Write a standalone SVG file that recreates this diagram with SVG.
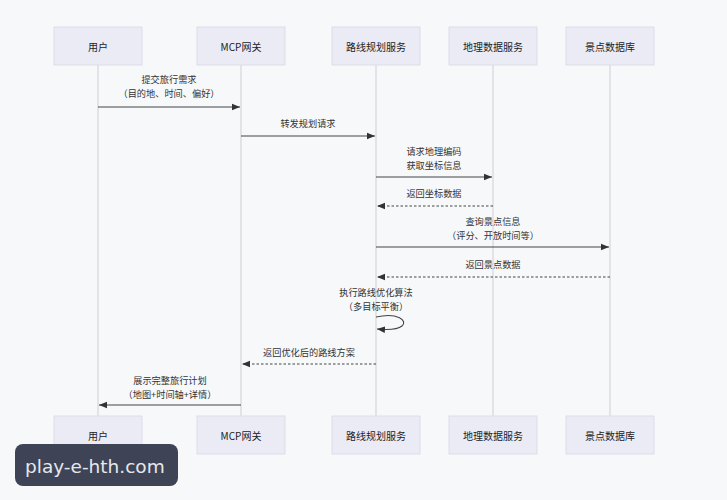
<svg xmlns="http://www.w3.org/2000/svg" width="727" height="500" viewBox="0 0 727 500">
<style>
  .bg{fill:#f7f8fa}
  .actor rect{fill:#ebebf6;stroke:#dddde9;stroke-width:1}
  .actor text{font-family:"Noto Sans CJK SC","Liberation Sans",sans-serif;font-size:10px;fill:#222;text-anchor:middle;dominant-baseline:central}
  .life{stroke:#cfcfd4;stroke-width:1}
  .msg{stroke:#444;stroke-width:1.1;fill:none}
  .dash{stroke-dasharray:2.5,2}
  .lbl{font-family:"Noto Sans CJK SC","Liberation Sans",sans-serif;font-size:9.2px;fill:#333;text-anchor:middle}
  .wm rect{fill:#3e4455}
  .wm text{font-family:"DejaVu Sans","Liberation Sans",sans-serif;font-size:18.5px;fill:#e6e8ee}
</style>
<defs>
  <marker id="ah" viewBox="0 0 10 10" refX="10" refY="5" markerWidth="8" markerHeight="8" markerUnits="userSpaceOnUse" orient="auto">
    <path d="M0,1 L10,5 L0,9 z" fill="#333"/>
  </marker>
</defs>
<rect class="bg" x="0" y="0" width="727" height="500"/>
<g id="lifelines">
  <line class="life" x1="98" y1="65" x2="98" y2="416"/>
  <line class="life" x1="241" y1="65" x2="241" y2="416"/>
  <line class="life" x1="376" y1="65" x2="376" y2="416"/>
  <line class="life" x1="493" y1="65" x2="493" y2="416"/>
  <line class="life" x1="610" y1="65" x2="610" y2="416"/>
</g>
<g id="actor-user-top" class="actor"><rect x="54" y="27" width="88" height="38"/><text x="98" y="46">用户</text></g>
<g id="actor-mcp-top" class="actor"><rect x="197" y="27" width="88" height="38"/><text x="241" y="46">MCP网关</text></g>
<g id="actor-route-top" class="actor"><rect x="332" y="27" width="88" height="38"/><text x="376" y="46">路线规划服务</text></g>
<g id="actor-geo-top" class="actor"><rect x="449" y="27" width="88" height="38"/><text x="493" y="46">地理数据服务</text></g>
<g id="actor-poi-top" class="actor"><rect x="566" y="27" width="88" height="38"/><text x="610" y="46">景点数据库</text></g>
<g id="actor-user-bottom" class="actor"><rect x="54" y="416" width="88" height="38"/><text x="98" y="435">用户</text></g>
<g id="actor-mcp-bottom" class="actor"><rect x="197" y="416" width="88" height="38"/><text x="241" y="435">MCP网关</text></g>
<g id="actor-route-bottom" class="actor"><rect x="332" y="416" width="88" height="38"/><text x="376" y="435">路线规划服务</text></g>
<g id="actor-geo-bottom" class="actor"><rect x="449" y="416" width="88" height="38"/><text x="493" y="435">地理数据服务</text></g>
<g id="actor-poi-bottom" class="actor"><rect x="566" y="416" width="88" height="38"/><text x="610" y="435">景点数据库</text></g>
<g id="connectors">
  <line class="msg" x1="98" y1="107" x2="240" y2="107" marker-end="url(#ah)"/>
  <line class="msg" x1="241" y1="136" x2="375" y2="136" marker-end="url(#ah)"/>
  <line class="msg" x1="376" y1="177" x2="492" y2="177" marker-end="url(#ah)"/>
  <line class="msg dash" x1="493" y1="206" x2="377" y2="206" marker-end="url(#ah)"/>
  <line class="msg" x1="376" y1="247" x2="609" y2="247" marker-end="url(#ah)"/>
  <line class="msg dash" x1="610" y1="277" x2="377" y2="277" marker-end="url(#ah)"/>
  <path class="msg" d="M376,317 C398,312 408,321 402,326 C397,330 388,330 377,329" marker-end="url(#ah)"/>
  <line class="msg dash" x1="376" y1="364" x2="242" y2="364" marker-end="url(#ah)"/>
  <line class="msg" x1="241" y1="405" x2="99" y2="405" marker-end="url(#ah)"/>
</g>
<g id="labels">
  <text class="lbl" x="169" y="83">提交旅行需求</text>
  <text class="lbl" x="169" y="96.5">（目的地、时间、偏好）</text>
  <text class="lbl" x="308" y="127">转发规划请求</text>
  <text class="lbl" x="434" y="155">请求地理编码</text>
  <text class="lbl" x="434" y="168.5">获取坐标信息</text>
  <text class="lbl" x="434" y="197">返回坐标数据</text>
  <text class="lbl" x="493" y="225">查询景点信息</text>
  <text class="lbl" x="493" y="238.5">（评分、开放时间等）</text>
  <text class="lbl" x="493" y="268">返回景点数据</text>
  <text class="lbl" x="376" y="296">执行路线优化算法</text>
  <text class="lbl" x="376" y="309.5">（多目标平衡）</text>
  <text class="lbl" x="309" y="356">返回优化后的路线方案</text>
  <text class="lbl" x="170" y="384">展示完整旅行计划</text>
  <text class="lbl" x="170" y="397.5">（地图+时间轴+详情）</text>
</g>
<g id="watermark" class="wm">
  <rect x="15" y="444" width="163" height="42" rx="8"/>
  <text x="25" y="473">play-e-hth.com</text>
</g>
</svg>
